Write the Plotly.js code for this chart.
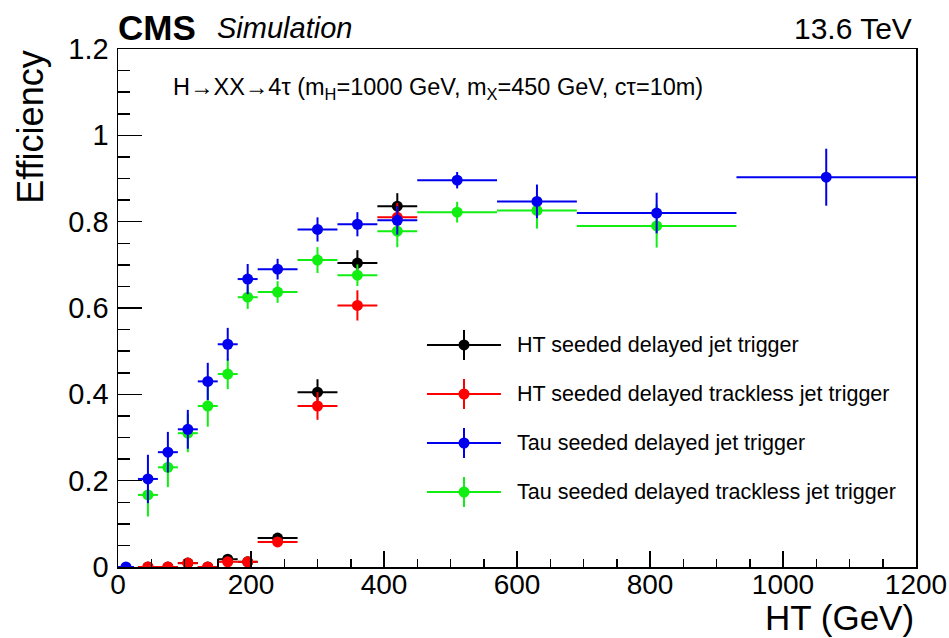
<!DOCTYPE html>
<html>
<head>
<meta charset="utf-8">
<script src="https://cdn.plot.ly/plotly-3.0.1.min.js"></script>
<style>html,body{margin:0;padding:0;background:#fff;}#chart{width:949px;height:638px;}</style>
</head>
<body>
<div id="chart"></div>
<script>
// ---- data ----
const seriesNames = [
  "HT seeded delayed jet trigger",
  "HT seeded delayed trackless jet trigger",
  "Tau seeded delayed jet trigger",
  "Tau seeded delayed trackless jet trigger"
];
const seriesColors = ["#000000", "#ff0000", "#0000ee", "#11ee11"];

// HT seeded (black / red) bins
const htX      = [45, 75, 105, 135, 165, 195, 240, 300, 360, 420];
const htXerr   = [15, 15, 15, 15, 15, 15, 30, 30, 30, 30];
const htJet    = [0, 0, 0.009, 0, 0.018, 0.012, 0.067, 0.405, 0.704, 0.836];
const htJetErr = [0.004, 0.004, 0.006, 0.004, 0.008, 0.007, 0.01, 0.03, 0.03, 0.03];
const htTrk    = [0, 0, 0.009, 0, 0.012, 0.012, 0.058, 0.373, 0.606, 0.810];
const htTrkErr = [0.004, 0.004, 0.006, 0.004, 0.007, 0.007, 0.01, 0.032, 0.035, 0.033];

// Tau seeded (blue / green) bins
const tauX      = [12, 45, 75, 105, 135, 165, 195, 240, 300, 360, 420, 510, 630, 810, 1065];
const tauXerr   = [12, 15, 15, 15, 15, 15, 15, 30, 30, 30, 30, 60, 60, 120, 135];
const tauJet    = [0, 0.204, 0.266, 0.319, 0.430, 0.516, 0.667, 0.690, 0.782, 0.794, 0.803, 0.896, 0.847, 0.820, 0.903];
const tauJetErr = [0, 0.056, 0.047, 0.045, 0.043, 0.038, 0.035, 0.024, 0.028, 0.028, 0.033, 0.019, 0.039, 0.047, 0.066];
const tauTrkX   = [45, 75, 105, 135, 165, 195, 240, 300, 360, 420, 510, 630, 810];
const tauTrkXerr= [15, 15, 15, 15, 15, 15, 30, 30, 30, 30, 60, 60, 120];
const tauTrk    = [0.167, 0.231, 0.310, 0.373, 0.447, 0.625, 0.637, 0.711, 0.676, 0.778, 0.822, 0.826, 0.790];
const tauTrkErr = [0.050, 0.046, 0.044, 0.048, 0.035, 0.027, 0.025, 0.030, 0.025, 0.037, 0.024, 0.042, 0.050];

const xTickVals = [0, 200, 400, 600, 800, 1000, 1200];
const yTickVals = [0, 0.2, 0.4, 0.6, 0.8, 1, 1.2];

// ---- traces ----
function mk(x, xe, y, ye, idx) {
  const c = seriesColors[idx];
  return {
    type: "scatter", mode: "markers", name: seriesNames[idx],
    x: x, y: y,
    marker: {color: c, size: 11, symbol: "circle"},
    error_x: {type: "data", array: xe, visible: true, color: c, thickness: 2, width: 0},
    error_y: {type: "data", array: ye, visible: true, color: c, thickness: 2, width: 0},
    showlegend: false, cliponaxis: true, hoverinfo: "x+y"
  };
}
const traces = [
  mk(htX, htXerr, htJet, htJetErr, 0),
  mk(htX, htXerr, htTrk, htTrkErr, 1),
  mk(tauTrkX, tauTrkXerr, tauTrk, tauTrkErr, 3),
  mk(tauX, tauXerr, tauJet, tauJetErr, 2)
];

// ---- custom legend (line + error bar + marker + text) ----
const FONT = "Liberation Sans, Arial, Helvetica, sans-serif";
const legY = [0.4286, 0.334, 0.2394, 0.1448];
const legCx = 0.4336, legX0 = 0.3872, legX1 = 0.4799, legText = 0.4975;
const shapes = [];
const annotations = [];
seriesNames.forEach((n, i) => {
  const c = seriesColors[i], y = legY[i];
  shapes.push({type: "line", xref: "paper", yref: "paper", x0: legX0, x1: legX1, y0: y, y1: y, line: {color: c, width: 2}});
  shapes.push({type: "line", xref: "paper", yref: "paper", ysizemode: "pixel", yanchor: y, x0: legCx, x1: legCx, y0: -15, y1: 15, line: {color: c, width: 2}});
  shapes.push({type: "circle", xref: "paper", yref: "paper", xsizemode: "pixel", ysizemode: "pixel", xanchor: legCx, yanchor: y, x0: -5.5, x1: 5.5, y0: -5.5, y1: 5.5, fillcolor: c, line: {color: c, width: 0}});
  annotations.push({xref: "paper", yref: "paper", x: legText, y: y, xanchor: "left", yanchor: "middle", showarrow: false, text: n, font: {family: FONT, size: 21.5, color: "#000"}});
});

// titles / labels
annotations.push({xref: "paper", yref: "paper", x: -0.003, y: 1.042, xanchor: "left", yanchor: "middle", showarrow: false, text: "<b>CMS</b>", font: {family: FONT, size: 35, color: "#000"}});
annotations.push({xref: "paper", yref: "paper", x: 0.122, y: 1.04, xanchor: "left", yanchor: "middle", showarrow: false, text: "<i>Simulation</i>", font: {family: FONT, size: 29, color: "#000"}});
annotations.push({xref: "paper", yref: "paper", x: 0.997, y: 1.04, xanchor: "right", yanchor: "middle", showarrow: false, text: "13.6 TeV", font: {family: FONT, size: 30, color: "#000"}});
annotations.push({xref: "paper", yref: "paper", x: 0.066, y: 0.9247, xanchor: "left", yanchor: "middle", showarrow: false, text: "H\u2192XX\u21924\u03c4 (m<sub>H</sub>=1000 GeV, m<sub>X</sub>=450 GeV, c\u03c4=10m)", font: {family: FONT, size: 23.5, color: "#000"}});
annotations.push({xref: "paper", yref: "paper", x: -0.109, y: 0.848, xanchor: "center", yanchor: "middle", textangle: -90, showarrow: false, text: "Efficiency", font: {family: FONT, size: 36, color: "#000"}});
annotations.push({xref: "paper", yref: "paper", x: 1.0, y: -0.0975, xanchor: "right", yanchor: "middle", showarrow: false, text: "HT (GeV)", font: {family: FONT, size: 35, color: "#000"}});

const layout = {
  width: 949, height: 638,
  margin: {l: 118, r: 33, t: 49, b: 71},
  paper_bgcolor: "#fff", plot_bgcolor: "#fff",
  showlegend: false,
  font: {family: FONT, color: "#000"},
  xaxis: {
    range: [0, 1200], tickvals: xTickVals, ticktext: xTickVals.map(String),
    showgrid: false, zeroline: false,
    showline: true, mirror: true, linecolor: "#000", linewidth: 1.5,
    ticks: "inside", ticklen: 16, tickwidth: 1.5, tickcolor: "#000",
    minor: {dtick: 50, ticks: "inside", ticklen: 8, tickwidth: 1.5, tickcolor: "#000", showgrid: false},
    tickfont: {family: FONT, size: 28, color: "#000"},
    ticklabelstandoff: -8
  },
  yaxis: {
    range: [0, 1.2], tickvals: yTickVals, ticktext: yTickVals.map(String),
    showgrid: false, zeroline: false,
    showline: true, mirror: true, linecolor: "#000", linewidth: 1.5,
    ticks: "inside", ticklen: 24, tickwidth: 1.5, tickcolor: "#000",
    minor: {dtick: 0.05, ticks: "inside", ticklen: 12, tickwidth: 1.5, tickcolor: "#000", showgrid: false},
    tickfont: {family: FONT, size: 29, color: "#000"},
    ticklabelstandoff: 2
  },
  shapes: shapes,
  annotations: annotations
};

Plotly.newPlot("chart", traces, layout, {staticPlot: true, displayModeBar: false});
</script>
</body>
</html>
